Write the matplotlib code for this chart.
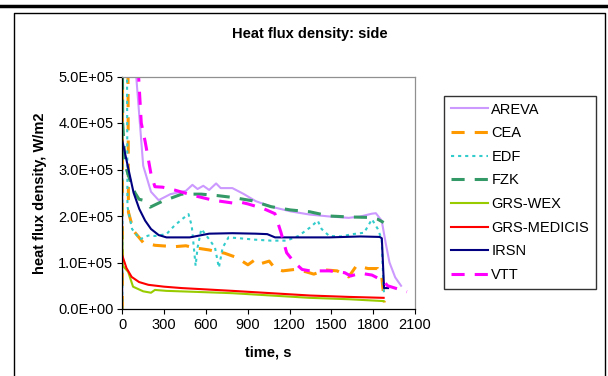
import numpy as np
import matplotlib.pyplot as plt
from matplotlib.lines import Line2D
from matplotlib.ticker import FuncFormatter

plt.rcParams['font.family'] = ['Liberation Sans', 'DejaVu Sans']

# data (time in s, heat flux in 1e5 W/m2)
areva_t = [0, 2, 60, 100, 150, 206, 261, 345, 456, 503, 540, 581, 623, 673, 706, 790,
           873, 957, 1068, 1207, 1346, 1485, 1624, 1708, 1791, 1819, 1861, 1889, 1917, 1958, 2000]
areva_q = [0, 9.0, 7.0, 5.0, 3.08, 2.52, 2.34, 2.47, 2.54, 2.67, 2.58, 2.65, 2.56, 2.70, 2.60, 2.60,
           2.47, 2.32, 2.20, 2.10, 2.03, 1.99, 1.96, 1.99, 2.05, 2.06, 1.90, 1.43, 1.00, 0.68, 0.50]

cea_t = [0, 2, 40, 44, 81, 150, 234, 373, 456, 512, 623, 734, 818, 901, 957, 999, 1054, 1096,
         1151, 1235, 1318, 1374, 1457, 1541, 1624, 1680, 1763, 1833, 1861, 1880]
cea_q = [0, 6.0, 6.0, 2.08, 1.68, 1.43, 1.37, 1.34, 1.36, 1.32, 1.27, 1.20, 1.11, 0.95, 1.07, 0.98, 1.03, 0.87,
         0.82, 0.85, 0.80, 0.75, 0.84, 0.82, 0.69, 0.93, 0.87, 0.87, 0.71, 0.14]

edf_t = [0, 2, 33, 37, 70, 127, 187, 234, 317, 373, 428, 475, 498, 512, 526, 540, 567, 623, 665, 693,
         720, 762, 845, 957, 1068, 1179, 1263, 1346, 1402, 1430, 1485, 1569, 1652, 1735, 1791, 1833,
         1861, 1875, 1880]
edf_q = [0, 6.0, 6.0, 2.2, 1.72, 1.50, 1.58, 1.57, 1.61, 1.79, 1.93, 2.04, 1.79, 1.36, 0.93, 1.32, 1.72, 1.50, 1.32, 0.89,
         1.32, 1.54, 1.52, 1.49, 1.47, 1.47, 1.57, 1.75, 1.90, 1.72, 1.57, 1.56, 1.61, 1.64, 1.93, 1.72,
         1.50, 0.42, 0.30]

fzk_t = [0, 3, 20, 55, 91, 120, 148, 200, 283, 426, 567, 679, 790, 929, 1068, 1207, 1346, 1485,
         1624, 1763, 1833, 1875]
fzk_q = [6.0, 4.0, 3.1, 2.77, 2.50, 2.36, 2.34, 2.19, 2.31, 2.47, 2.47, 2.44, 2.40, 2.33, 2.20, 2.13, 2.09, 2.00,
         1.98, 1.97, 1.93, 1.86]

wex_t = [0, 3, 42, 77, 150, 206, 234, 317, 512, 790, 1068, 1346, 1624, 1875]
wex_q = [1.54, 0.93, 0.80, 0.48, 0.38, 0.35, 0.41, 0.39, 0.37, 0.34, 0.29, 0.24, 0.21, 0.17]

medicis_t = [0, 30, 67, 120, 187, 300, 426, 790, 1068, 1346, 1624, 1875]
medicis_q = [1.15, 0.88, 0.69, 0.58, 0.52, 0.48, 0.45, 0.39, 0.34, 0.29, 0.26, 0.24]

irsn_t = [0, 39, 81, 122, 164, 206, 261, 317, 484, 623, 790, 957, 1040, 1096, 1485, 1708,
          1847, 1862, 1878, 1907]
irsn_q = [3.62, 3.08, 2.50, 2.15, 1.90, 1.72, 1.59, 1.54, 1.54, 1.62, 1.63, 1.62, 1.61, 1.54, 1.54, 1.56,
          1.55, 1.52, 0.45, 0.45]

vtt_t = [60, 117, 136, 164, 206, 234, 289, 373, 512, 651, 790, 845, 901, 1012, 1095, 1138, 1179,
         1235, 1290, 1346, 1485, 1596, 1638, 1708, 1791, 1875, 1903, 2042]
vtt_q = [8.0, 5.0, 4.0, 3.6, 2.9, 2.63, 2.62, 2.56, 2.44, 2.34, 2.28, 2.30, 2.26, 2.16, 2.05, 1.65, 1.21,
         1.00, 0.85, 0.82, 0.82, 0.78, 0.71, 0.77, 0.73, 0.60, 0.50, 0.37]

names = ['AREVA', 'CEA', 'EDF', 'FZK', 'GRS-WEX', 'GRS-MEDICIS', 'IRSN', 'VTT']
series = [(areva_t, areva_q), (cea_t, cea_q), (edf_t, edf_q), (fzk_t, fzk_q),
          (wex_t, wex_q), (medicis_t, medicis_q), (irsn_t, irsn_q), (vtt_t, vtt_q)]
colors = ['#CC99FF', '#FF9900', '#33CCCC', '#339966', '#99CC00', '#FF0000', '#000080', '#FF00FF']
widths = [1.5, 2.2, 1.5, 2.2, 1.5, 1.5, 1.5, 2.2]
dashes = [None, (4.3, 3.3), (1.5, 1.9), (4.3, 3.3), None, None, None, (4.3, 3.3)]

fig = plt.figure(figsize=(6.08, 3.76), dpi=100)
ax = fig.add_axes([122.3/608, 1-309/376, (415-122.3)/608, (309-76.5)/376])

for name, (t, q), c, lw, d in zip(names, series, colors, widths, dashes):
    line, = ax.plot(t, np.array(q)*1e5, color=c, lw=lw, label=name,
                    solid_joinstyle='round', dash_capstyle='butt')
    if d is not None:
        line.set_dashes(d)

ax.set_xlim(0, 2100)
ax.set_ylim(0, 5e5)
ax.set_xticks(np.arange(0, 2101, 300))
ax.set_yticks(np.arange(0, 5.01e5, 1e5))
ax.yaxis.set_major_formatter(FuncFormatter(lambda v, p: f"{v:.1E}"))
ax.tick_params(direction='out', length=3.5, width=0.8, labelsize=10.5, pad=3)
for s in ['top', 'right']:
    ax.spines[s].set_color('#909090')
for s in ['left', 'bottom']:
    ax.spines[s].set_color('#000000')
for s in ax.spines.values():
    s.set_linewidth(0.9)

ax.set_xlabel('time, s', fontsize=10.5, fontweight='bold', labelpad=10)
ax.set_ylabel('heat flux density, W/m2', fontsize=10.5, fontweight='bold', labelpad=8)
fig.text(310/608, 1-34/376, 'Heat flux density: side', ha='center', va='center',
         fontsize=10.5, fontweight='bold')

leg = fig.legend(loc='upper left', bbox_to_anchor=(444/608, 1-96/376), fontsize=10.5,
                 frameon=True, fancybox=False, handlelength=2.6, handletextpad=0.2,
                 labelspacing=0.66, borderpad=0.45, borderaxespad=0)
leg.get_frame().set_edgecolor('#000000')
leg.get_frame().set_linewidth(1.0)

# outer frame of the chart area
fig.add_artist(Line2D([0, 1], [1-6/376, 1-6/376], color='black', lw=2.5))
fig.add_artist(Line2D([14/608, 14/608, 605/608, 605/608], [0, 1-13/376, 1-13/376, 0],
                      color='black', lw=1.0))

fig.savefig('out.png', dpi=100)
